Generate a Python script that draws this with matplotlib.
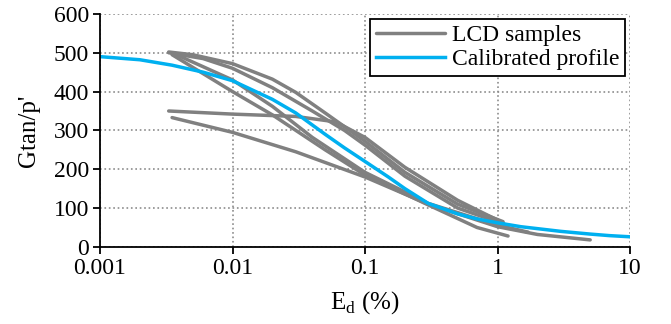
import numpy as np
import matplotlib
matplotlib.use('Agg')
import matplotlib.pyplot as plt

plt.rcParams['font.family'] = ['Liberation Serif', 'DejaVu Serif']
plt.rcParams['mathtext.fontset'] = 'custom'
plt.rcParams['mathtext.rm'] = 'Liberation Serif'

# LCD sample curves (strain %, Gtan/p')
s1_x = [0.0033, 0.005, 0.01, 0.02, 0.03, 0.05, 0.1, 0.2, 0.5, 1.1]
s1_y = [502, 495, 472, 432, 398, 345, 272, 192, 110, 65]
s2_x = [0.0033, 0.006, 0.01, 0.02, 0.04, 0.07, 0.1, 0.2, 0.5, 1.2]
s2_y = [500, 485, 460, 410, 350, 300, 262, 182, 100, 55]
s3_x = [0.0035, 0.01, 0.02, 0.04, 0.1, 0.3, 1.0, 1.7]
s3_y = [500, 430, 362, 282, 192, 112, 56, 38]
s4_x = [0.0035, 0.01, 0.02, 0.05, 0.1, 0.3, 0.7, 1.2]
s4_y = [495, 400, 340, 250, 185, 108, 50, 28]
s5_x = [0.0033, 0.01, 0.03, 0.06, 0.1, 0.2, 0.5, 1.1]
s5_y = [350, 342, 336, 322, 282, 205, 120, 62]
s6_x = [0.0035, 0.01, 0.03, 0.1, 0.3, 1.0, 2.0, 5.0]
s6_y = [333, 295, 245, 180, 110, 52, 32, 18]
samples = [(s1_x, s1_y), (s2_x, s2_y), (s3_x, s3_y),
           (s4_x, s4_y), (s5_x, s5_y), (s6_x, s6_y)]

# calibrated profile
cal_x = [0.001, 0.002, 0.0035, 0.006, 0.01, 0.02, 0.03, 0.05, 0.07, 0.1,
         0.15, 0.2, 0.3, 0.5, 0.7, 1, 1.5, 2, 3, 5, 7, 10]
cal_y = [490, 482, 468, 450, 428, 380, 345, 290, 255, 220,
         180, 150, 112, 85, 72, 62, 52, 47, 40, 33, 29, 26]

fig = plt.figure(figsize=(6.71, 3.24), dpi=100)
ax = fig.add_axes([0.149, 0.238, 0.79, 0.719])

grey = '#808080'
blue = '#00B0F0'

for i, (x, y) in enumerate(samples):
    ax.plot(x, y, c=grey, lw=2.5, solid_capstyle='round',
            label='LCD samples' if i == 0 else None)
ax.plot(cal_x, cal_y, c=blue, lw=2.5, label='Calibrated profile')

ax.set_xscale('log')
ax.set_xlim(0.001, 10)
ax.set_ylim(0, 600)
ax.set_xticks([0.001, 0.01, 0.1, 1, 10])
ax.set_xticklabels(['0.001', '0.01', '0.1', '1', '10'])
ax.minorticks_off()
ax.set_yticks(range(0, 601, 100))

ax.grid(True, ls=':', c='#8c8c8c', lw=1.2)
ax.set_axisbelow(True)
for s in ['top', 'right']:
    ax.spines[s].set_visible(False)
for s in ['left', 'bottom']:
    ax.spines[s].set_linewidth(1.3)
ax.tick_params(labelsize=17, direction='out', length=5, width=1.3, pad=3)

ax.set_xlabel('E$_\\mathrm{d}$ (%)', fontsize=18, labelpad=7)
ax.set_ylabel("Gtan/p'", fontsize=18, labelpad=10)

leg = ax.legend(loc='upper right', fontsize=17, fancybox=False, framealpha=1,
                edgecolor='black', handlelength=2.9, handletextpad=0.3,
                borderpad=0.25, labelspacing=0.1, borderaxespad=0.2)
leg.get_frame().set_linewidth(1.3)

fig.savefig('out.png', dpi=100)
